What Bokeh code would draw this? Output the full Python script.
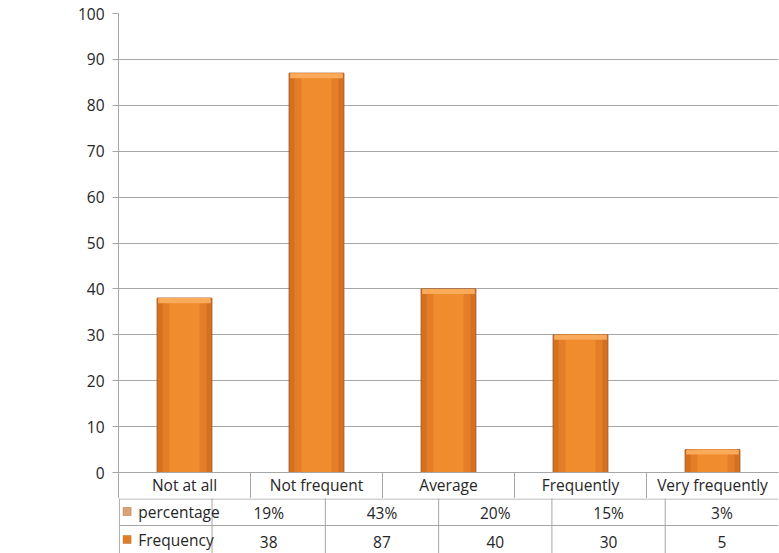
from bokeh.plotting import figure
from bokeh.layouts import column
from bokeh.models import Range1d, FixedTicker, ColumnDataSource
from bokeh.embed import file_html
from bokeh.resources import INLINE
from bokeh.core.properties import value

# ---- data ----
categories = ["Not at all", "Not frequent", "Average", "Frequently", "Very frequently"]
frequency = [38, 87, 40, 30, 5]
percentage = ["19%", "43%", "20%", "15%", "3%"]
series_names = ["percentage", "Frequency"]
y_ticks = [0, 10, 20, 30, 40, 50, 60, 70, 80, 90, 100]

FONT = "Open Sans"
GRID = "#a6a6a6"
TXT = "#262626"
FS = "15.5px"

n = len(categories)
xs = [i + 0.5 for i in range(n)]
bounds = [float(i) for i in range(n)]
src = ColumnDataSource(dict(x=xs, top=frequency, cat=categories, pct=percentage,
                            freq=[str(v) for v in frequency]))

# ---- chart ----
p = figure(width=779, height=498, output_backend="svg", toolbar_location=None,
           x_range=Range1d(0, n), y_range=Range1d(0, 100),
           min_border_left=118, min_border_right=1, min_border_top=13, min_border_bottom=26)
p.outline_line_color = None
p.xgrid.grid_line_color = None
p.ygrid.grid_line_color = GRID
p.ygrid.ticker = FixedTicker(ticks=y_ticks)
p.yaxis.ticker = FixedTicker(ticks=y_ticks)
p.yaxis.axis_line_color = GRID
p.yaxis.major_tick_line_color = GRID
p.yaxis.major_tick_out = 6
p.yaxis.major_tick_in = 0
p.yaxis.minor_tick_line_color = None
p.yaxis.major_label_standoff = 8
p.yaxis.major_label_text_font = FONT
p.yaxis.major_label_text_font_size = FS
p.yaxis.major_label_text_color = TXT

# category axis = header row of the data table
p.xaxis.ticker = FixedTicker(ticks=xs, minor_ticks=bounds)
p.xaxis.major_label_overrides = {x: c for x, c in zip(xs, categories)}
p.xaxis.axis_line_color = GRID
p.xaxis.major_tick_line_color = None
p.xaxis.major_tick_out = 0
p.xaxis.major_tick_in = 0
p.xaxis.minor_tick_line_color = GRID
p.xaxis.minor_tick_out = 26
p.xaxis.minor_tick_in = 0
p.xaxis.major_label_standoff = -25
p.xaxis.major_label_text_font = FONT
p.xaxis.major_label_text_font_size = FS
p.xaxis.major_label_text_color = TXT
p.background_fill_color = "white"
p.border_fill_color = "white"

W = 0.415
p.vbar(x="x", top="top", bottom=0, width=W, source=src,
       fill_color="#D5701F", line_color="#A85A22", line_width=1)
p.vbar(x="x", top="top", bottom=0, width=W * 0.8, source=src,
       fill_color="#E47D27", line_color=None)
p.vbar(x="x", top="top", bottom=0, width=W * 0.55, source=src,
       fill_color="#F08B2E", line_color=None)
cap = ColumnDataSource(dict(x=xs, top=frequency, bottom=[v - 1.1 for v in frequency]))
p.vbar(x="x", top="top", bottom="bottom", width=W * 0.96, source=cap,
       fill_color="#F9AA5A", line_color=None)

# ---- data table rows below ----
t = figure(width=779, height=55, output_backend="svg", toolbar_location=None,
           x_range=Range1d(-109 / 132, n), y_range=Range1d(553, 498),
           min_border_left=9, min_border_right=1, min_border_top=0, min_border_bottom=0)
t.axis.visible = False
t.grid.grid_line_color = None
t.outline_line_color = None
t.background_fill_color = "white"
t.border_fill_color = "white"

left = -108 / 132
t.segment(x0=[left, left], y0=[498.5, 525], x1=[n, n], y1=[498.5, 525],
          line_color=GRID, line_width=1)
t.segment(x0=bounds, y0=[490] * n, x1=bounds, y1=[560] * n,
          line_color=GRID, line_width=1)
t.segment(x0=[left], y0=[498], x1=[left], y1=[560], line_color=GRID, line_width=1)

common = dict(text_font=value(FONT), text_font_size=FS, text_color=TXT,
              text_align="center", text_baseline="middle", source=src)
t.text(x="x", y=512, text="pct", **common)
t.text(x="x", y=541, text="freq", **common)

leg = ColumnDataSource(dict(x=[-99 / 132, -99 / 132], y=[511, 539], name=series_names,
                            tx=[-86 / 132, -86 / 132],
                            col=["#D9A373", "#E07F24"]))
t.rect(x="x", y="y", width=8, height=8, width_units="screen", height_units="screen",
       fill_color="col", line_color="#B07040", line_width=0.5, source=leg)
t.text(x="tx", y="y", text="name", text_font=value(FONT), text_font_size=FS,
       text_color=TXT, text_align="left", text_baseline="middle", source=leg)

layout = column(p, t, spacing=0)
open("out.html", "w").write(file_html(layout, INLINE))
